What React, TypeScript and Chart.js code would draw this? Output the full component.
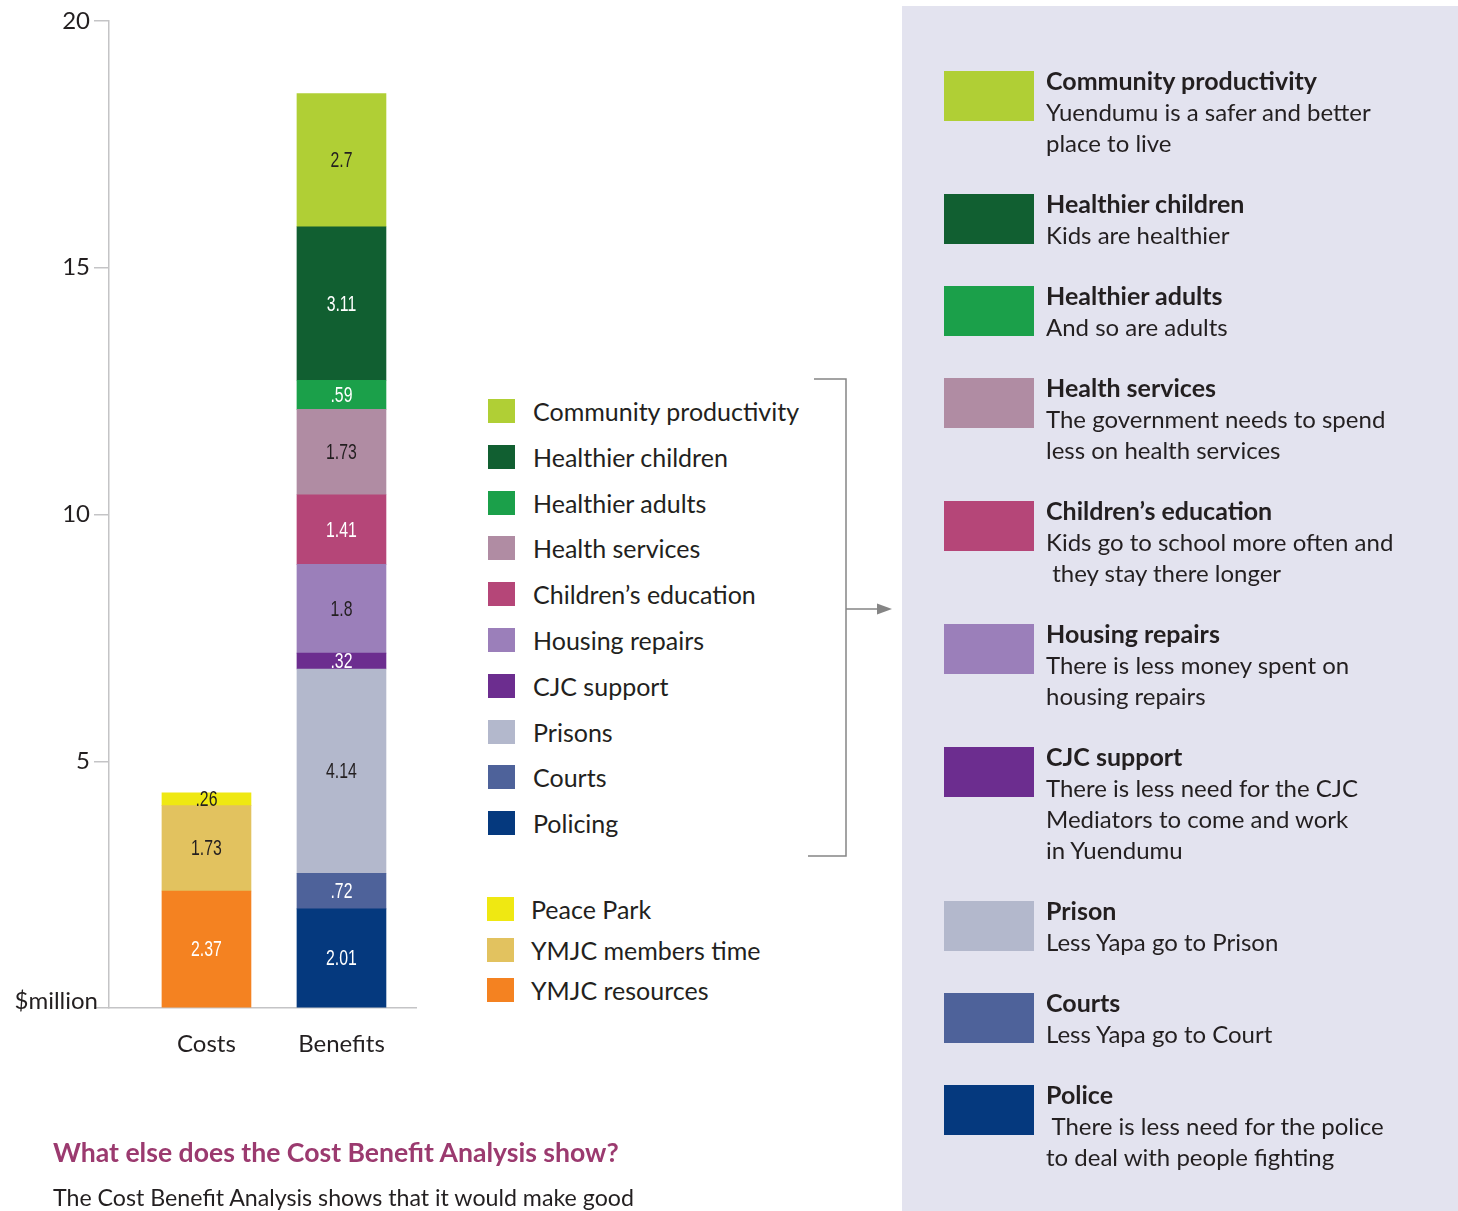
import React, { useEffect, useRef } from 'react';
import { Chart, registerables } from 'chart.js';

Chart.register(...registerables);

// ---------------- DATA ----------------
const categories = ['Costs', 'Benefits'];

const costSeries = ['YMJC resources', 'YMJC members time', 'Peace Park'];
const costValues = [2.37, 1.73, 0.26];

const benefitSeries = [
  'Policing',
  'Courts',
  'Prisons',
  'CJC support',
  'Housing repairs',
  'Children’s education',
  'Health services',
  'Healthier adults',
  'Healthier children',
  'Community productivity',
];
const benefitValues = [2.01, 0.72, 4.14, 0.32, 1.8, 1.41, 1.73, 0.59, 3.11, 2.7];

const yTickValues = [0, 5, 10, 15, 20];
const yZeroLabel = '$million';

const panelTitles = [
  'Community productivity',
  'Healthier children',
  'Healthier adults',
  'Health services',
  'Children’s education',
  'Housing repairs',
  'CJC support',
  'Prison',
  'Courts',
  'Police',
];
const panelLines = [
  ['Yuendumu is a safer and better', 'place to live'],
  ['Kids are healthier'],
  ['And so are adults'],
  ['The government needs to spend', 'less on health services'],
  ['Kids go to school more often and', ' they stay there longer'],
  ['There is less money spent on', 'housing repairs'],
  ['There is less need for the CJC', 'Mediators to come and work', 'in Yuendumu'],
  ['Less Yapa go to Prison'],
  ['Less Yapa go to Court'],
  [' There is less need for the police', 'to deal with people fighting'],
];

const headingText = 'What else does the Cost Benefit Analysis show?';
const bodyText = 'The Cost Benefit Analysis shows that it would make good';

// ---------------- STYLE ----------------
const seriesColors: Record<string, string> = {
  'YMJC resources': '#f48221',
  'YMJC members time': '#e2c25f',
  'Peace Park': '#efe812',
  Policing: '#05397e',
  Courts: '#4e629a',
  Prisons: '#b3b8cc',
  'CJC support': '#6c2d8f',
  'Housing repairs': '#9b7fba',
  'Children’s education': '#b54678',
  'Health services': '#b08ca3',
  'Healthier adults': '#1ba04a',
  'Healthier children': '#115f31',
  'Community productivity': '#b0cf35',
};
const whiteLabelSeries = new Set([
  'YMJC resources',
  'Policing',
  'Courts',
  'CJC support',
  'Children’s education',
  'Healthier adults',
  'Healthier children',
]);
const panelColors = [
  '#b0cf35', '#115f31', '#1ba04a', '#b08ca3', '#b54678',
  '#9b7fba', '#6c2d8f', '#b3b8cc', '#4e629a', '#05397e',
];

const FONT = 'Lato, "Noto Sans", sans-serif';
const TEXT = '#231f20';
const AXIS = '#c4c4c6';

const fmt = (v: number) => (v < 1 ? String(v).replace(/^0/, '') : String(v));

const valueLabels = {
  id: 'valueLabels',
  afterDatasetsDraw(chart: any) {
    const ctx = chart.ctx;
    const squeeze = 0.72;
    ctx.save();
    ctx.font = '22px "Liberation Sans", Arial, sans-serif';
    ctx.textAlign = 'center';
    ctx.textBaseline = 'middle';
    chart.data.datasets.forEach((ds: any, di: number) => {
      const meta = chart.getDatasetMeta(di);
      meta.data.forEach((el: any, i: number) => {
        const v = ds.data[i].y;
        const { x, y, base } = el.getProps(['x', 'y', 'base'], true);
        ctx.fillStyle = whiteLabelSeries.has(ds.label) ? '#ffffff' : TEXT;
        ctx.save();
        ctx.translate(x, (y + base) / 2 + 1);
        ctx.scale(squeeze, 1);
        ctx.fillText(fmt(v), 0, 0);
        ctx.restore();
      });
    });
    // unit label at the zero tick
    const yScale = chart.scales.y;
    ctx.font = `24px ${FONT}`;
    ctx.fillStyle = TEXT;
    ctx.textAlign = 'right';
    ctx.fillText(yZeroLabel, yScale.right - 11, yScale.getPixelForValue(0) - 7);
    ctx.restore();
  },
};

function BarChart() {
  const ref = useRef<HTMLCanvasElement | null>(null);
  useEffect(() => {
    if (!ref.current) return;
    Chart.defaults.font.family = FONT;
    const datasets = [
      ...costSeries.map((name, i) => ({
        label: name,
        data: [{ x: 0, y: costValues[i] }],
        backgroundColor: seriesColors[name],
      })),
      ...benefitSeries.map((name, i) => ({
        label: name,
        data: [{ x: 1, y: benefitValues[i] }],
        backgroundColor: seriesColors[name],
      })),
    ].map((d) => ({ ...d, borderWidth: 0, barThickness: 89 }));

    const chart = new Chart(ref.current, {
      type: 'bar',
      data: { datasets } as any,
      plugins: [valueLabels as any],
      options: {
        animation: false,
        responsive: false,
        maintainAspectRatio: false,
        layout: { padding: { top: 21, right: 4, left: 0, bottom: 0 } },
        plugins: { legend: { display: false }, tooltip: { enabled: false } },
        scales: {
          x: {
            type: 'linear',
            min: -0.722,
            max: 1.552,
            offset: false,
            stacked: true,
            afterBuildTicks: (s: any) => {
              s.ticks = categories.map((_, i) => ({ value: i }));
            },
            afterFit: (s: any) => {
              s.height = 67;
            },
            ticks: {
              callback: (v: any) => categories[v] ?? '',
              font: { size: 24 },
              color: TEXT,
              padding: 22,
              autoSkip: false,
              maxRotation: 0,
            },
            grid: { display: false, drawTicks: false, offset: false },
            border: { color: AXIS, width: 1.5 },
          },
          y: {
            min: 0,
            max: 20,
            stacked: true,
            afterBuildTicks: (s: any) => {
              s.ticks = yTickValues.map((v) => ({ value: v }));
            },
            afterFit: (s: any) => {
              s.width = 109;
            },
            ticks: {
              callback: (v: any) => (v === 0 ? '' : String(v)),
              font: { size: 24 },
              color: TEXT,
              padding: 4,
            },
            grid: { drawOnChartArea: false, tickLength: 15, color: AXIS, lineWidth: 1.5 },
            border: { color: AXIS, width: 1.5 },
          },
        },
      } as any,
    });
    return () => chart.destroy();
  }, []);
  return (
    <canvas
      ref={ref}
      width={420}
      height={1075}
      style={{ position: 'absolute', left: 0, top: 0, width: 420, height: 1075 }}
    />
  );
}

function LegendItem({ name, center, sqLeft, textLeft }: { name: string; center: number; sqLeft: number; textLeft: number }) {
  return (
    <>
      <div
        style={{
          position: 'absolute',
          left: sqLeft,
          top: center - 12,
          width: 27,
          height: 24,
          background: seriesColors[name],
        }}
      />
      <div
        style={{
          position: 'absolute',
          left: textLeft,
          top: center - 16,
          height: 32,
          lineHeight: '32px',
          fontSize: 25,
          whiteSpace: 'nowrap',
        }}
      >
        {name}
      </div>
    </>
  );
}

export default function App() {
  const benefitLegend = [...benefitSeries].reverse();
  const costLegend = [...costSeries].reverse();
  return (
    <div
      style={{
        position: 'absolute',
        left: 0,
        top: 0,
        width: 1458,
        height: 1211,
        overflow: 'hidden',
        background: '#ffffff',
        fontFamily: FONT,
        color: TEXT,
      }}
    >
      <BarChart />

      {benefitLegend.map((name, i) => (
        <LegendItem key={name} name={name} center={411 + i * 45.8} sqLeft={488} textLeft={533} />
      ))}
      {costLegend.map((name, i) => (
        <LegendItem key={name} name={name} center={909 + i * 40.5} sqLeft={487} textLeft={531} />
      ))}

      <svg
        width={1458}
        height={1211}
        style={{ position: 'absolute', left: 0, top: 0, pointerEvents: 'none' }}
      >
        <polyline points="814,379 846,379 846,856 808,856" fill="none" stroke="#858585" strokeWidth={1.5} />
        <line x1={846} y1={609} x2={880} y2={609} stroke="#858585" strokeWidth={1.5} />
        <polygon points="892,609 877,603.5 877,614.5" fill="#858585" />
      </svg>

      <div
        style={{
          position: 'absolute',
          left: 53,
          top: 1135,
          fontSize: 26.6,
          fontWeight: 700,
          color: '#9b3a6f',
          whiteSpace: 'nowrap',
          lineHeight: '34px',
        }}
      >
        {headingText}
      </div>
      <div
        style={{
          position: 'absolute',
          left: 53,
          top: 1181,
          fontSize: 23.2,
          whiteSpace: 'nowrap',
          lineHeight: '32px',
        }}
      >
        {bodyText}
      </div>

      <div
        style={{
          position: 'absolute',
          left: 902,
          top: 6,
          width: 556,
          height: 1205,
          background: '#e3e3ef',
        }}
      />
      <div style={{ position: 'absolute', left: 944, top: 64.5, width: 500 }}>
        {panelTitles.map((title, i) => (
          <div key={title} style={{ display: 'flex', marginBottom: 30 }}>
            <div
              style={{
                width: 90,
                height: 50,
                marginTop: 6.5,
                background: panelColors[i],
                flex: '0 0 auto',
              }}
            />
            <div style={{ marginLeft: 12, lineHeight: '31px', fontSize: 24, whiteSpace: 'pre' }}>
              <div style={{ fontWeight: 700, fontSize: 25 }}>{title}</div>
              {panelLines[i].map((line, j) => (
                <div key={j}>{line}</div>
              ))}
            </div>
          </div>
        ))}
      </div>
    </div>
  );
}
